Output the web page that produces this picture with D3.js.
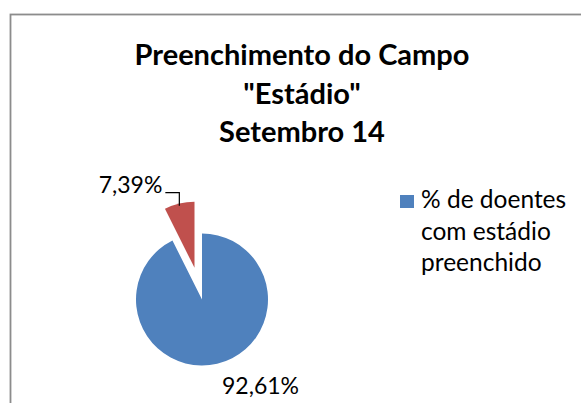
<!DOCTYPE html>
<html>
<head>
<meta charset="utf-8">
<script src="https://cdn.jsdelivr.net/npm/d3@7"></script>
<style>
  body { margin: 0; background: #fff; }
  text { font-family: Lato, "Open Sans", sans-serif; fill: #000; }
</style>
</head>
<body>
<svg id="chart" width="581" height="403"></svg>
<script>
// Data
var categories = ["% de doentes com estádio preenchido", "% de doentes sem estádio preenchido"];
var values = [92.61, 7.39];
var valueLabels = ["92,61%", "7,39%"];
var titleLines = ["Preenchimento do Campo", "\"Estádio\"", "Setembro 14"];
var legendLines = ["% de doentes", "com estádio", "preenchido"];
var colors = ["#4F81BD", "#C0504D"];

var svg = d3.select("#chart"),
    width = +svg.attr("width"),
    height = +svg.attr("height");

// chart area border (continues past the right/bottom edge)
svg.append("rect")
    .attr("x", 10.5)
    .attr("y", 14.5)
    .attr("width", 620)
    .attr("height", 420)
    .attr("fill", "none")
    .attr("stroke", "#8c8c8c")
    .attr("stroke-width", 1.8);

// Title
svg.append("g")
  .selectAll("text")
  .data(titleLines)
  .enter()
  .append("text")
    .attr("x", 302)
    .attr("y", function(d, i) { return 65 + i * 38.5; })
    .attr("text-anchor", "middle")
    .style("font-weight", "bold")
    .style("font-size", "29px")
    .text(function(d) { return d; });

// Pie
var cx = 202, cy = 299.5, r = 66;
var pie = d3.pie().sort(null);
var arc = d3.arc().innerRadius(0).outerRadius(r);
var slices = pie(values);
var explode = [0, 32.5];

var g = svg.append("g").attr("transform", "translate(" + cx + "," + cy + ")");

g.selectAll("path")
  .data(slices)
  .enter()
  .append("path")
    .attr("d", arc)
    .attr("fill", function(d, i) { return colors[i]; })
    .attr("transform", function(d, i) {
      var a = (d.startAngle + d.endAngle) / 2;
      return "translate(" + (Math.sin(a) * explode[i]) + "," + (-Math.cos(a) * explode[i]) + ")";
    });

// Labels
// big slice label below the pie
g.append("text")
    .attr("x", 20)
    .attr("y", 94)
    .style("font-size", "23px")
    .text(valueLabels[0]);

// small slice label with leader line
var red = slices[1];
var ra = (red.startAngle + red.endAngle) / 2;
var rx0 = Math.sin(ra) * explode[1], ry0 = -Math.cos(ra) * explode[1];
// point on the outer edge of the red slice
var edgeX = rx0 + Math.sin(ra) * r, edgeY = ry0 - Math.cos(ra) * r;
var elbowY = -106.8;
g.append("path")
    .attr("d", d3.line()([[edgeX - 14, elbowY], [edgeX, elbowY], [edgeX, edgeY + 2]]))
    .attr("fill", "none")
    .attr("stroke", "#000")
    .attr("stroke-width", 1.2);

g.append("text")
    .attr("x", edgeX - 17)
    .attr("y", -106.5)
    .attr("text-anchor", "end")
    .style("font-size", "23px")
    .text(valueLabels[1]);

// Legend (first category only)
var legend = svg.append("g");
legend.append("rect")
    .attr("x", 400)
    .attr("y", 195)
    .attr("width", 14)
    .attr("height", 13)
    .attr("fill", colors[0]);

legend.selectAll("text")
  .data(legendLines)
  .enter()
  .append("text")
    .attr("x", 421)
    .attr("y", function(d, i) { return 208 + i * 31.5; })
    .style("font-size", "24.5px")
    .text(function(d) { return d; });
</script>
</body>
</html>
